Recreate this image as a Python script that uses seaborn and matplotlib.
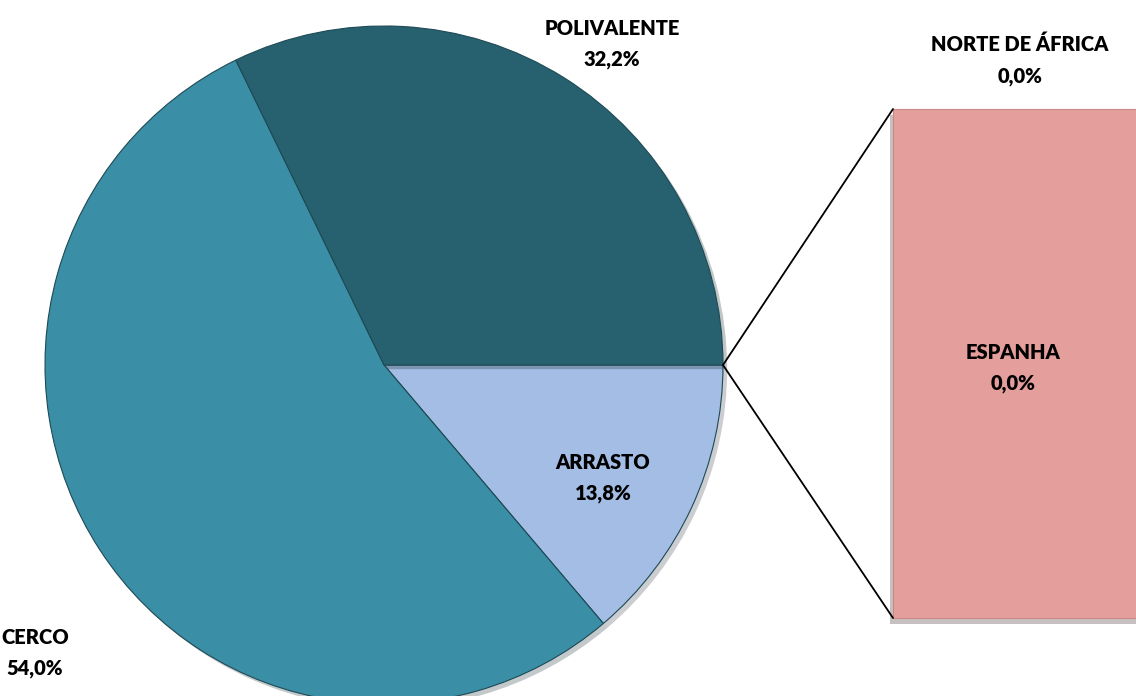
import matplotlib
matplotlib.use("Agg")
import matplotlib.pyplot as plt
import matplotlib.patheffects as pe
import seaborn as sns

# Data
pie_labels = ["ARRASTO", "CERCO", "POLIVALENTE"]
pie_values = [13.8, 54.0, 32.2]
pie_colors = ["#A3BDE4", "#3A8EA5", "#27606F"]
bar_labels = ["ESPANHA", "NORTE DE ÁFRICA"]
bar_values = [0.0, 0.0]
bar_color = "#E49E9C"

sns.set_theme(style="white")
plt.rcParams['font.family'] = ['Lato', 'DejaVu Sans']

W, H = 1136, 696
fig = plt.figure(figsize=(W / 100, H / 100), dpi=100)
ax = fig.add_axes([0, 0, 1, 1])

cx, cy, r = 384, 331, 339
wedges, _ = ax.pie(pie_values, colors=pie_colors, startangle=0, counterclock=False,
                   center=(cx, cy), radius=r, frame=True,
                   wedgeprops=dict(edgecolor="#1d4a55", linewidth=0.8))
for w in wedges:
    w.set_path_effects([pe.SimplePatchShadow(offset=(3, -3), alpha=0.25), pe.Normal()])
ax.set_xlim(0, W)
ax.set_ylim(0, H)
ax.set_aspect("equal")
ax.axis("off")

# Bar of pie (secondary bar)
bx0, bx1, by0, by1 = 893, 1140, 78, 587
ax.bar([(bx0 + bx1) / 2], [by1 - by0], bottom=[by0], width=bx1 - bx0,
       color=bar_color, edgecolor="#c98987", linewidth=0.8,
       path_effects=[pe.SimplePatchShadow(offset=(-2, -4), alpha=0.3), pe.Normal()])

# Connector lines
ax.plot([cx + r, bx0], [cy, by1], color="black", lw=1.3)
ax.plot([cx + r, bx0], [cy, by0], color="black", lw=1.3)

fs = 14.5
def lab(x, y, name, val):
    ax.text(x, H - y, f"{name}\n{val:.1f}%".replace(".", ","), ha="center", va="center",
            fontsize=fs, fontweight="heavy", color="black", linespacing=1.75)

lab(612, 44, pie_labels[2], pie_values[2])
lab(603, 478, pie_labels[0], pie_values[0])
lab(35, 653, pie_labels[1], pie_values[1])
lab(1013, 368, bar_labels[0], bar_values[0])
lab(1020, 60, bar_labels[1], bar_values[1])

fig.savefig("out.png", dpi=100)
